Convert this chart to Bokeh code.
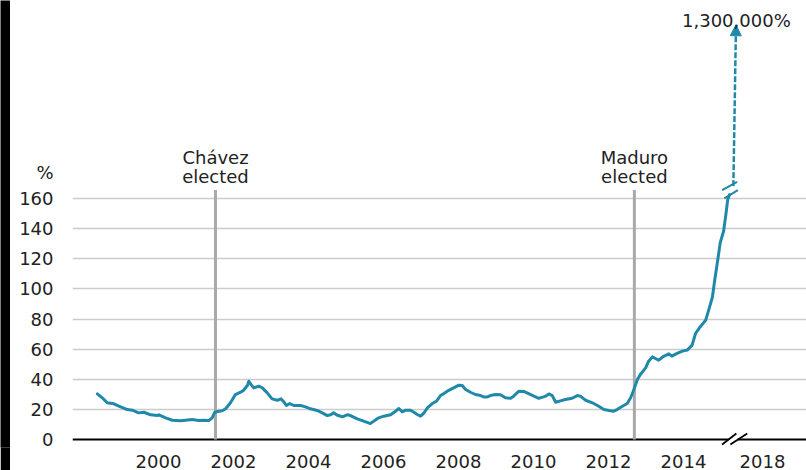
from bokeh.plotting import figure
from bokeh.layouts import row
from bokeh.models import Range1d, FixedTicker, Label, Arrow, NormalHead
from bokeh.embed import file_html
from bokeh.resources import INLINE

# ---- data (x positions in chart years; 2018 sits beyond the axis break) ----
YEARS = [1998.37, 1998.50, 1998.63, 1998.81, 1998.99, 1999.17, 1999.30, 1999.47, 1999.61, 1999.79,
         1999.97, 2000.01, 2000.19, 2000.37, 2000.59, 2000.72, 2000.90, 2001.07, 2001.21, 2001.34,
         2001.43, 2001.50, 2001.61, 2001.70, 2001.79, 2001.92, 2002.05, 2002.19, 2002.27, 2002.37,
         2002.41, 2002.47, 2002.54, 2002.67, 2002.77, 2002.90, 2003.03, 2003.17, 2003.27, 2003.36,
         2003.41, 2003.50, 2003.61, 2003.79, 2003.92, 2004.05, 2004.23, 2004.37, 2004.50, 2004.59,
         2004.67, 2004.77, 2004.90, 2005.03, 2005.12, 2005.30, 2005.47, 2005.65, 2005.74, 2005.87,
         2006.01, 2006.19, 2006.32, 2006.41, 2006.50, 2006.59, 2006.72, 2006.81, 2006.90, 2006.99,
         2007.07, 2007.17, 2007.30, 2007.41, 2007.52, 2007.61, 2007.74, 2007.87, 2008.01, 2008.10,
         2008.19, 2008.32, 2008.45, 2008.59, 2008.67, 2008.77, 2008.85, 2008.99, 2009.12, 2009.25,
         2009.39, 2009.47, 2009.61, 2009.74, 2009.87, 2010.01, 2010.14, 2010.27, 2010.32, 2010.41,
         2010.50, 2010.59, 2010.72, 2010.85, 2011.03, 2011.17, 2011.25, 2011.39, 2011.57, 2011.74,
         2011.88, 2012.01, 2012.14, 2012.23, 2012.37, 2012.50, 2012.59, 2012.66, 2012.77, 2012.85,
         2012.99, 2013.07, 2013.17, 2013.25, 2013.34, 2013.47, 2013.61, 2013.69, 2013.83, 2013.97,
         2014.10, 2014.23, 2014.32, 2014.41, 2014.50, 2014.59, 2014.67, 2014.77, 2014.83, 2014.91,
         2014.98, 2015.07, 2015.13, 2015.18, 2015.23]
INFLATION = [30.3, 27.7, 24.4, 23.7, 21.7, 19.9, 19.5, 17.7, 18.1, 16.4,
             15.9, 16.4, 14.4, 12.8, 12.4, 12.8, 13.3, 12.6, 12.8, 12.6,
             14.4, 18.1, 18.8, 19.1, 20.4, 24.4, 29.9, 31.4, 32.7, 35.9,
             38.7, 36.5, 34.3, 35.4, 34.3, 31.0, 27.0, 26.1, 27.0, 24.4,
             22.6, 23.9, 22.6, 22.6, 21.7, 20.4, 19.3, 17.7, 15.9, 16.4,
             17.7, 16.1, 15.1, 16.4, 15.9, 13.7, 12.2, 10.6, 12.2, 14.4,
             15.5, 16.4, 18.8, 20.6, 18.4, 19.5, 19.5, 18.1, 16.6, 15.5,
             17.3, 21.0, 23.9, 25.4, 29.2, 30.5, 32.7, 34.3, 36.1, 35.9,
             33.2, 31.4, 29.9, 29.2, 28.3, 28.3, 29.2, 29.9, 29.7, 27.7,
             27.4, 28.8, 32.1, 31.9, 30.5, 28.8, 27.4, 28.3, 28.8, 30.3,
             29.2, 24.8, 25.7, 26.6, 27.4, 29.2, 28.8, 26.1, 24.4, 22.1,
             19.9, 19.3, 18.8, 19.9, 22.1, 23.9, 27.7, 32.1, 39.8, 43.2,
             47.6, 52.0, 54.9, 53.8, 52.7, 55.3, 56.9, 55.4, 57.2, 58.7,
             59.4, 62.7, 70.4, 73.7, 76.5, 79.2, 85.8, 94.5, 105.5, 118.7,
             130.8, 138.5, 149.5, 159.4, 162.7]

Y_TICKS = [0, 20, 40, 60, 80, 100, 120, 140, 160]
Y_UNIT = "%"
Y_UNIT_POS = 177.6
X_TICK_POS = [2000, 2002, 2004, 2006, 2008, 2010, 2012, 2014, 2016.107]
X_TICK_LABELS = ["2000", "2002", "2004", "2006", "2008", "2010", "2012", "2014", "2018"]

EVENT_X = [2001.52, 2012.69]
EVENT_LINE1 = ["Chávez", "Maduro"]
EVENT_LINE2 = ["elected", "elected"]

PEAK_LABEL = "1,300,000%"

# ---- style ----
TEAL = "#2089a9"
GRAY_EVT = "#a9a9a9"
GRID = "#cccccc"
TXT = "#222222"
FONT = "DejaVu Sans"
FS = "18px"

strip = figure(width=10, height=470, toolbar_location=None, output_backend="svg",
               min_border=0, background_fill_color="black", border_fill_color="black",
               outline_line_color=None, x_range=Range1d(0, 1), y_range=Range1d(0, 1))
strip.axis.visible = False
strip.grid.visible = False
strip.line([0.5, 0.5], [0, 1], line_color="black", line_alpha=0.0)

p = figure(width=796, height=470, toolbar_location=None, output_backend="svg",
           x_range=Range1d(1997.707, 2017.28), y_range=Range1d(-5.3, 291.6),
           min_border_left=62, min_border_right=0, min_border_top=0, min_border_bottom=22,
           outline_line_color=None, background_fill_color="white", border_fill_color="white")

# axes
p.yaxis.ticker = FixedTicker(ticks=Y_TICKS + [Y_UNIT_POS])
p.yaxis.major_label_overrides = {Y_UNIT_POS: Y_UNIT}
p.yaxis.major_tick_line_color = None
p.yaxis.minor_tick_line_color = None
p.yaxis.axis_line_color = None
p.yaxis.major_label_standoff = 13
p.yaxis.major_label_text_font = FONT
p.yaxis.major_label_text_font_size = FS
p.yaxis.major_label_text_color = TXT

p.xaxis.ticker = FixedTicker(ticks=X_TICK_POS)
p.xaxis.major_label_overrides = {k: v for k, v in zip(X_TICK_POS, X_TICK_LABELS)}
p.xaxis.major_tick_line_color = None
p.xaxis.minor_tick_line_color = None
p.xaxis.axis_line_color = None
p.xaxis.major_label_standoff = 1
p.xaxis.major_label_text_font = FONT
p.xaxis.major_label_text_font_size = FS
p.xaxis.major_label_text_color = TXT

p.xgrid.visible = False
p.ygrid.ticker = FixedTicker(ticks=Y_TICKS[1:])
p.ygrid.grid_line_color = GRID
p.ygrid.grid_line_width = 1.5

# zero baseline with axis break
p.hspan(y=[Y_TICKS[0]], line_color="black", line_width=2)
p.segment(x0=[2015.20], y0=[0], x1=[2015.44], y1=[0], line_color="white", line_width=5)
p.segment(x0=[2015.03, 2015.25], y0=[-3.3, -3.3], x1=[2015.41, 2015.70], y1=[4.0, 4.0],
          line_color="black", line_width=1.8)

# event lines
p.segment(x0=EVENT_X, y0=[0, 0], x1=EVENT_X, y1=[165.7, 165.7], line_color=GRAY_EVT, line_width=3)

# inflation line
p.line(YEARS, INFLATION, line_color=TEAL, line_width=3, line_join="round", line_cap="round")

# break marks on the series
p.segment(x0=[2015.03, 2015.09], y0=[165.7, 160.2], x1=[2015.43, 2015.45], y1=[171.2, 165.7],
          line_color=TEAL, line_width=2)

# dashed arrow to the peak
p.add_layout(Arrow(x_start=2015.33, y_start=168.3, x_end=2015.40, y_end=275.5,
                   line_color=TEAL, line_width=2.5, line_dash="6 2",
                   end=NormalHead(size=11, fill_color=TEAL, line_color=TEAL, line_width=1)))

def lab(x, y, t, align="center"):
    p.add_layout(Label(x=x, y=y, text=t, text_align=align, text_baseline="alphabetic",
                       text_font=FONT, text_font_size=FS, text_color=TXT))

for x, l1, l2 in zip(EVENT_X, EVENT_LINE1, EVENT_LINE2):
    lab(x, 187.2, l1)
    lab(x, 174.6, l2)

lab(2015.41, 278.3, PEAK_LABEL)

layout = row(strip, p)
open("out.html", "w").write(file_html(layout, INLINE))
